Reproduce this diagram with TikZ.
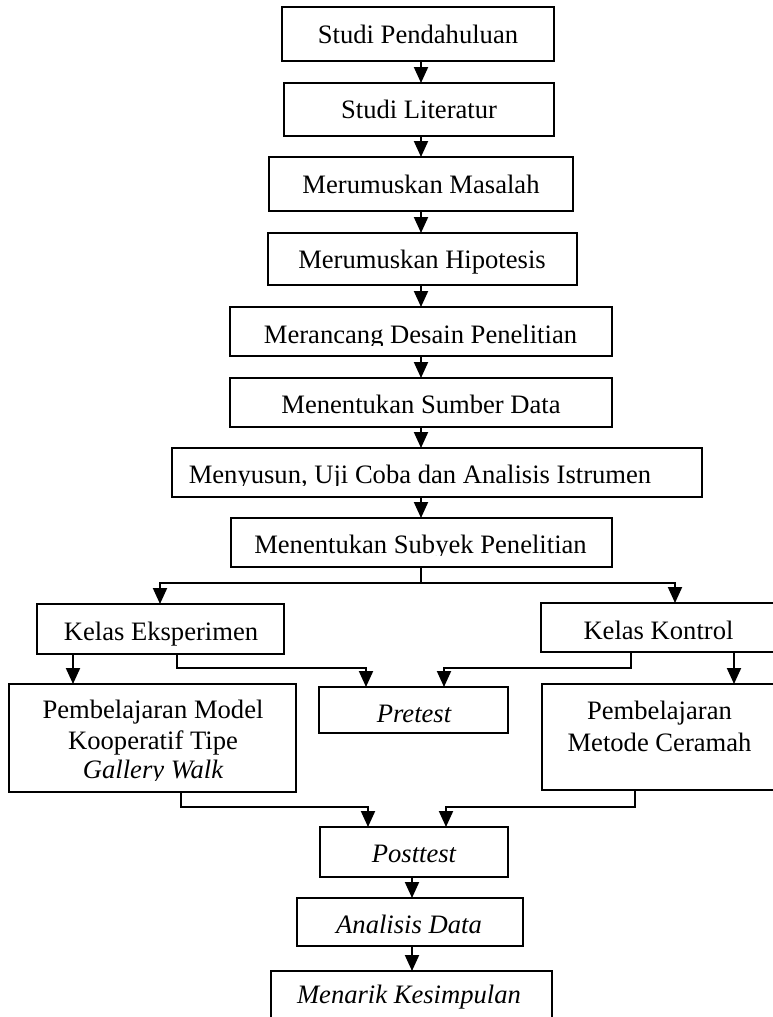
\documentclass[tikz,border=0pt]{standalone}
\usepackage{fontspec}
\setmainfont{Liberation Serif}
\usetikzlibrary{arrows.meta,calc}
\begin{document}
\begin{tikzpicture}[x=1pt,y=-1pt,
  box/.style={draw,line width=2.5pt,rectangle,inner sep=0pt,outer sep=0pt},
  lbl/.style={inner sep=0pt,anchor=base,font=\fontsize{26.6}{31}\selectfont},
  ilbl/.style={lbl,font=\fontsize{26.6}{31}\selectfont\itshape},
  conn/.style={line width=2pt},
  arr/.style={conn,-{Triangle[width=14pt,length=16pt]}},
  mask/.style={fill=white,draw=none}]
\useasboundingbox (0,0) rectangle (773,1017);
% helper x positions
\coordinate (ax) at (421,0);
\coordinate (sp) at (421,583);
\coordinate (xke) at (160,0);
\coordinate (xkk) at (675,0);
\coordinate (x73) at (73,0);
\coordinate (x177) at (177,0);
\coordinate (x366) at (366,0);
\coordinate (x631) at (631,0);
\coordinate (x444) at (444,0);
\coordinate (x734) at (734,0);
\coordinate (x181) at (181,0);
\coordinate (x368) at (368,0);
\coordinate (x635) at (635,0);
\coordinate (x446) at (446,0);
\coordinate (x412) at (412,0);

% boxes
\node[box,minimum width=272pt,minimum height=54pt] (b1) at (418,34) {};
\node[box,minimum width=270pt,minimum height=53pt] (b2) at (419,109.5) {};
\node[box,minimum width=304pt,minimum height=54pt] (b3) at (421,184) {};
\node[box,minimum width=309pt,minimum height=52pt] (b4) at (422.5,259) {};
\node[box,minimum width=382pt,minimum height=49pt] (b5) at (421,331.5) {};
\node[box,minimum width=382pt,minimum height=49pt] (b6) at (421,402.5) {};
\node[box,minimum width=530pt,minimum height=49pt] (b7) at (437,472.5) {};
\node[box,minimum width=381pt,minimum height=49pt] (b8) at (421.5,542.5) {};
\node[box,minimum width=247pt,minimum height=50pt] (ke) at (160.5,629) {};
\node[box,minimum width=235pt,minimum height=49pt] (kk) at (658.5,627.5) {};
\node[box,minimum width=287pt,minimum height=108pt] (pm) at (152.5,738) {};
\node[box,minimum width=189pt,minimum height=46pt] (pre) at (413.5,710) {};
\node[box,minimum width=235pt,minimum height=106pt] (pc) at (659.5,737) {};
\node[box,minimum width=188pt,minimum height=50pt] (post) at (414,852) {};
\node[box,minimum width=226pt,minimum height=48pt] (ad) at (410,922) {};
\node[box,minimum width=281pt,minimum height=59pt] (mk) at (411.5,1000.5) {};

% texts
\node[lbl] (t1) at (418,43) {Studi Pendahuluan};
\node[lbl] (t2) at (419,118) {Studi Literatur};
\node[lbl] (t3) at (421,193) {Merumuskan Masalah};
\node[lbl] (t4) at (422,268) {Merumuskan Hipotesis};
\node[lbl] (t5) at (420.5,343) {Merancang Desain Penelitian};
\node[lbl] (t6) at (421,413) {Menentukan Sumber Data};
\node[lbl] (t7) at (420,483) {Menyusun, Uji Coba dan Analisis Istrumen};
\node[lbl] (t8) at (420.5,553) {Menentukan Subyek Penelitian};
\node[lbl] (tke) at (161,640) {Kelas Eksperimen};
\node[lbl] (tkk) at (658.5,639) {Kelas Kontrol};
\node[lbl] (tpm1) at (153,718) {Pembelajaran Model};
\node[lbl] (tpm2) at (153,749) {Kooperatif Tipe};
\node[ilbl] (tpm3) at (153,778) {Gallery Walk};
\node[ilbl] (tpre) at (414,722) {Pretest};
\node[lbl] (tpc1) at (659.5,719) {Pembelajaran};
\node[lbl] (tpc2) at (659.5,751) {Metode Ceramah};
\node[ilbl] (tpost) at (414,862) {Posttest};
\node[ilbl] (tad) at (409,933) {Analisis Data};
\node[ilbl] (tmk) at (409,1003) {Menarik Kesimpulan};

% text clipping (text box cut)
\fill[mask] (231.5,345.5) rectangle (610.5,354.6);
\fill[mask] (173.5,485.5) rectangle (700.5,495.6);
\fill[mask] (232.5,555.5) rectangle (610.5,565.6);
\fill[mask] (10.5,780.5) rectangle (294.5,790.6);
\fill[mask] (320.5,724) rectangle (506.5,731.6);

% connectors
\draw[arr] (b1.south -| ax) -- (b2.north -| ax);
\draw[arr] (b2.south -| ax) -- (b3.north -| ax);
\draw[arr] (b3.south -| ax) -- (b4.north -| ax);
\draw[arr] (b4.south -| ax) -- (b5.north -| ax);
\draw[arr] (b5.south -| ax) -- (b6.north -| ax);
\draw[arr] (b6.south -| ax) -- (b7.north -| ax);
\draw[arr] (b7.south -| ax) -- (b8.north -| ax);
\draw[conn] (b8.south -| ax) -- (sp);
\draw[arr] (sp) -| (ke.north -| xke);
\draw[arr] (sp) -| (kk.north -| xkk);
\draw[arr] (ke.south -| x73) -- (pm.north -| x73);
\draw[arr] (ke.south -| x177) -- ++(0,14) -| (pre.north -| x366);
\draw[arr] (kk.south -| x631) -- ++(0,16) -| (pre.north -| x444);
\draw[arr] (kk.south -| x734) -- (pc.north -| x734);
\draw[arr] (pm.south -| x181) -- ++(0,15) -| (post.north -| x368);
\draw[arr] (pc.south -| x635) -- ++(0,17) -| (post.north -| x446);
\draw[arr] (post.south -| x412) -- (ad.north -| x412);
\draw[arr] (ad.south -| x412) -- (mk.north -| x412);
\end{tikzpicture}
\end{document}
